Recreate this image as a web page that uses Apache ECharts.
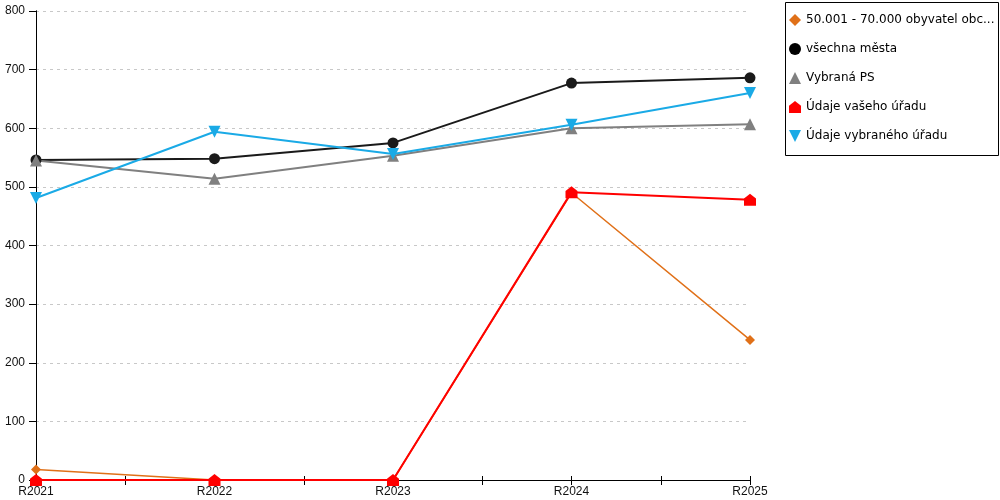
<!DOCTYPE html>
<html><head><meta charset="utf-8">
<script src="https://cdn.jsdelivr.net/npm/echarts@6/dist/echarts.min.js"></script>
<style>html,body{margin:0;padding:0;background:#fff}#c{width:1000px;height:500px}</style>
</head><body><div id="c"></div>
<script>
var categories = ['R2021','R2022','R2023','R2024','R2025'];
var yTicks = [0,100,200,300,400,500,600,700,800];
var seriesNames = ['50.001 - 70.000 obyvatel obc...','všechna města','Vybraná PS','Údaje vašeho úřadu','Údaje vybraného úřadu'];
var obyvatel = [18, 0, 0, 490, 239];
var vsechnaMesta = [546, 548, 575, 677, 686];
var vybranaPS = [545, 514, 553, 600, 607];
var vasehoUradu = [0, 0, 0, 491, 478];
var vybranehoUradu = [481, 594, 556, 606, 660];

function pts(arr){ return arr.map(function(v,i){ return [i, v]; }); }
var FONT = 'Liberation Sans';
var LFONT = 'DejaVu Sans';
var house = 'path://M0,4 L5,0 L10,4 L10,10 L0,10 Z';
var tri = 'path://M5,0 L10,10 L0,10 Z';
var triDown = 'path://M0,0 L10,0 L5,10 Z';
var diamond = 'path://M5,0 L10,5 L5,10 L0,5 Z';

var chart = echarts.init(document.getElementById('c'), null, {renderer:'canvas'});
function mk(name, data, color, lw, symbol, size){
  return {name:name, type:'line', data:pts(data), clip:false, symbol:symbol, symbolSize:size,
    lineStyle:{color:color, width:lw}, itemStyle:{color:color}, emphasis:{disabled:true}};
}
chart.setOption({
  animation:false,
  textStyle:{fontFamily:FONT},
  grid:{left:36, right:250, top:11, bottom:20},
  graphic:[{type:'rect', shape:{x:785.5, y:2.5, width:213, height:153}, style:{fill:'none', stroke:'#000', lineWidth:1}, z:-1}],
  legend:{orient:'vertical', left:789, top:14, padding:0, itemWidth:12, itemHeight:12, itemGap:17,
    textStyle:{fontFamily:LFONT, fontSize:12, color:'#000'},
    data:[
      {name:seriesNames[0], icon:diamond, itemStyle:{color:'#E07018'}},
      {name:seriesNames[1], icon:'circle', itemStyle:{color:'#000'}},
      {name:seriesNames[2], icon:tri, itemStyle:{color:'#808080'}},
      {name:seriesNames[3], icon:house, itemStyle:{color:'#FF0000'}},
      {name:seriesNames[4], icon:triDown, itemStyle:{color:'#1AAAE6'}}
    ]},
  xAxis:[
    {type:'value', min:0, max:categories.length-1, interval:0.5,
      axisLine:{show:true, onZero:false, lineStyle:{color:'#000', width:1}},
      axisTick:{show:true, length:5, lineStyle:{color:'#000'}},
      splitLine:{show:false},
      axisLabel:{margin:6, fontFamily:FONT, fontSize:12, color:'#111',
        formatter:function(v){ return Number.isInteger(v) ? categories[v] : ''; }}},
    {type:'value', position:'bottom', min:0, max:categories.length-1, interval:0.5,
      axisLine:{show:false}, axisTick:{show:true, inside:true, length:4, lineStyle:{color:'#000'}},
      splitLine:{show:false}, axisLabel:{show:false}}
  ],
  yAxis:[
    {type:'value', min:yTicks[0], max:yTicks[yTicks.length-1], interval:100,
      axisLine:{show:true, lineStyle:{color:'#000'}},
      axisTick:{show:true, length:7, lineStyle:{color:'#000'}},
      splitLine:{show:true, lineStyle:{color:'#c8c8c8', type:[3,4], width:1}},
      axisLabel:{margin:11, fontFamily:FONT, fontSize:12, color:'#111'}},
    {type:'value', position:'right', min:0, max:800, interval:100,
      axisLine:{show:true, lineStyle:{color:'#000'}}, axisTick:{show:false},
      splitLine:{show:false}, axisLabel:{show:false}}
  ],
  series:[
    mk(seriesNames[0], obyvatel, '#E07018', 1.5, diamond, 10),
    mk(seriesNames[1], vsechnaMesta, '#1a1a1a', 2, 'circle', 11),
    mk(seriesNames[2], vybranaPS, '#808080', 2, tri, 12),
    mk(seriesNames[3], vasehoUradu, '#FF0000', 2, house, 12),
    mk(seriesNames[4], vybranehoUradu, '#1AAAE6', 2, triDown, 12)
  ]
});
</script></body></html>
